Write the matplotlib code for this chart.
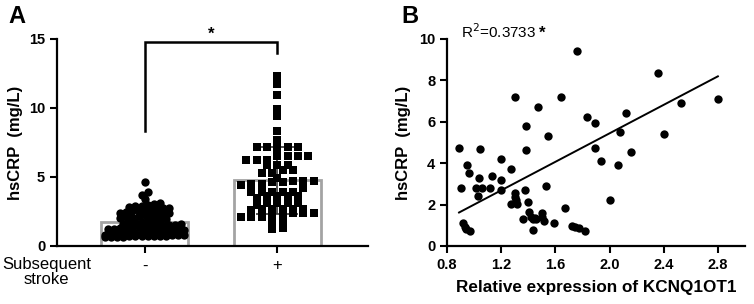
import numpy as np
import matplotlib
matplotlib.use("Agg")
import matplotlib.pyplot as plt

plt.rcParams['font.family'] = ['Liberation Sans', 'DejaVu Sans']

# ---- panel A data ----
groups = ['-', '+']
bar_means = [1.76, 4.75]
bar_sd_plus = 2.45

vals_minus = [0.62, 0.66, 0.68, 0.70, 0.71, 0.73, 0.74, 0.76, 0.77, 0.79, 0.64, 0.69, 0.72, 0.75,
              0.81, 0.84, 0.85, 0.88, 0.91, 0.93, 0.96, 0.98, 1.02, 1.05, 1.07, 1.11, 1.14, 1.18,
              1.21, 1.24, 1.27, 1.30, 1.33, 1.35, 1.39, 1.42, 1.44, 1.48, 1.52, 1.54, 1.57,
              1.62, 1.66, 1.70, 1.75, 1.81, 1.86, 1.91, 1.97,
              2.03, 2.08, 2.11, 2.17, 2.21, 2.25, 2.31, 2.34, 2.38,
              2.42, 2.47, 2.51, 2.55, 2.60, 2.63, 2.69, 2.72, 2.77,
              2.82, 2.86, 2.92, 2.96, 3.03, 3.10,
              3.38, 3.70, 3.93, 4.66]

vals_plus = [12.3, 11.7, 10.9, 9.9, 9.4, 8.3, 7.7,
             7.2, 7.2, 7.2, 7.2, 7.2, 6.95,
             6.5, 6.5, 6.5, 6.5, 6.2, 6.2, 6.2,
             5.9, 5.9, 5.9, 5.5, 5.5, 5.3, 5.3,
             4.9, 4.7, 4.7, 4.7, 4.6, 4.6, 4.5, 4.5, 4.4,
             4.2, 3.9, 3.9, 3.9, 3.9, 3.9, 3.6, 3.6, 3.6, 3.6, 3.5,
             3.1, 3.1, 3.1, 3.1, 3.0, 2.7, 2.7, 2.7, 2.7, 2.7, 2.6,
             2.4, 2.4, 2.4, 2.4, 2.1, 2.1, 2.1, 2.1, 1.8, 1.8, 1.3, 1.2]

# ---- panel B data ----
expr = [0.888, 0.905, 0.917, 0.930, 0.940, 0.966, 0.949, 0.961, 1.042, 1.034, 1.015, 1.027,
        1.059, 1.120, 1.132, 1.198, 1.198, 1.198, 1.271, 1.274, 1.298, 1.298, 1.303, 1.310,
        1.313, 1.360, 1.374, 1.381, 1.400, 1.406, 1.418, 1.432, 1.437, 1.447, 1.454, 1.386,
        1.472, 1.498, 1.503, 1.518, 1.530, 1.542, 1.589, 1.640, 1.674, 1.723, 1.747, 1.760,
        1.772, 1.821, 1.835, 1.889, 1.894, 1.938, 2.006, 2.060, 2.080, 2.119, 2.158, 2.360,
        2.400, 2.529, 2.800]
crp = [4.72, 2.79, 1.13, 0.93, 0.84, 0.74, 3.91, 3.51, 4.67, 3.27, 2.82, 2.42,
       2.82, 2.82, 3.40, 4.20, 3.19, 2.71, 3.70, 2.01, 7.21, 2.58, 2.38, 2.22,
       2.03, 1.29, 2.71, 4.61, 2.11, 1.66, 1.42, 1.29, 0.77, 1.34, 1.29, 5.81,
       6.73, 1.58, 1.38, 1.22, 2.91, 5.31, 1.13, 7.21, 1.82, 0.98, 0.93, 9.44,
       0.89, 0.74, 6.22, 4.72, 5.93, 4.11, 2.22, 3.91, 5.51, 6.41, 4.52, 8.33,
       5.41, 6.92, 7.12]
fit_slope = 3.44
fit_intercept = -1.44
r2_text = 'R$^2$=0.3733'


def swarm_offsets(vals, bin_h, step, shift=0.0):
    # simple column-scatter layout: points in the same value bin sit side by side
    vals = np.asarray(vals, dtype=float)
    bins = np.floor(vals / bin_h + shift + 1e-9)
    offs = np.zeros(len(vals))
    for b in np.unique(bins):
        idx = np.where(bins == b)[0]
        idx = idx[np.argsort(vals[idx])]
        n = len(idx)
        offs[idx] = (np.arange(n) - (n - 1) / 2) * step
    return offs


fig = plt.figure(figsize=(7.54, 3.04), dpi=100)

# ---------------- panel A ----------------
axA = fig.add_axes([0.0756, 0.191, 0.412, 0.681])
xpos = np.arange(len(groups))
axA.bar(xpos, bar_means, width=0.66, facecolor='white', edgecolor='#a3a3a3',
        linewidth=2.0, zorder=1)
axA.errorbar([xpos[1]], [bar_means[1]], yerr=bar_sd_plus, fmt='none', ecolor='#333333',
             elinewidth=1.2, capsize=15, capthick=1.2, zorder=2)

offm = swarm_offsets(vals_minus, 0.4, 0.046)
axA.scatter(xpos[0] + offm, vals_minus, s=36, marker='o', color='black', linewidths=0, zorder=3)
offp = swarm_offsets(vals_plus, 0.45, 0.078, shift=0.5)
axA.scatter(xpos[1] + offp, vals_plus, s=26, marker='s', color='black', linewidths=0, zorder=3)

axA.set_xlim(-0.66, 1.68)
axA.set_ylim(0, 15)
axA.set_yticks([0, 5, 10, 15])
axA.set_xticks(xpos)
axA.set_xticklabels(groups, fontsize=12)
for lab in axA.get_yticklabels():
    lab.set_fontweight('bold')
axA.tick_params(axis='y', labelsize=10.5, width=1.5, length=5)
axA.tick_params(axis='x', width=1.5, length=5, pad=4)
for s in ['top', 'right']:
    axA.spines[s].set_visible(False)
for s in ['left', 'bottom']:
    axA.spines[s].set_linewidth(1.6)
axA.set_ylabel('hsCRP  (mg/L)', fontsize=12, fontweight='bold', labelpad=4)

# significance bracket
axA.plot([xpos[0], xpos[0], xpos[1], xpos[1]], [8.3, 14.8, 14.8, 14.0],
         color='black', lw=1.8, clip_on=False, solid_joinstyle='miter')
axA.text(0.5, 15.35, '*', ha='center', va='center', fontsize=12, fontweight='bold')

fig.text(0.062, 0.153, 'Subsequent\nstroke', ha='center', va='top', fontsize=12,
         linespacing=0.95, multialignment='center')
fig.text(0.011, 0.985, 'A', ha='left', va='top', fontsize=17, fontweight='bold')

# ---------------- panel B ----------------
axB = fig.add_axes([0.593, 0.191, 0.395, 0.681])
axB.scatter(expr, crp, s=36, color='black', linewidths=0, zorder=3)
xf = np.array([min(expr), max(expr)])
axB.plot(xf, fit_slope * xf + fit_intercept, color='black', lw=1.4, zorder=2)
axB.set_xlim(0.8, 3.0)
axB.set_ylim(0, 10)
axB.set_xticks([0.8, 1.2, 1.6, 2.0, 2.4, 2.8])
axB.set_xticklabels(['0.8', '1.2', '1.6', '2.0', '2.4', '2.8'])
axB.set_yticks([0, 2, 4, 6, 8, 10])
for lab in axB.get_xticklabels() + axB.get_yticklabels():
    lab.set_fontweight('bold')
axB.tick_params(labelsize=10.5, width=1.5, length=5)
for s in ['top', 'right']:
    axB.spines[s].set_visible(False)
for s in ['left', 'bottom']:
    axB.spines[s].set_linewidth(1.6)
axB.set_ylabel('hsCRP  (mg/L)', fontsize=12, fontweight='bold', labelpad=6)
axB.set_xlabel('Relative expression of KCNQ1OT1', fontsize=12.3, fontweight='bold', labelpad=6)

fig.text(0.611, 0.895, r2_text, ha='left', va='center', fontsize=11)
fig.text(0.715, 0.89, '*', ha='left', va='center', fontsize=12, fontweight='bold')
fig.text(0.532, 0.985, 'B', ha='left', va='top', fontsize=17, fontweight='bold')

fig.savefig('out.png', dpi=100)
